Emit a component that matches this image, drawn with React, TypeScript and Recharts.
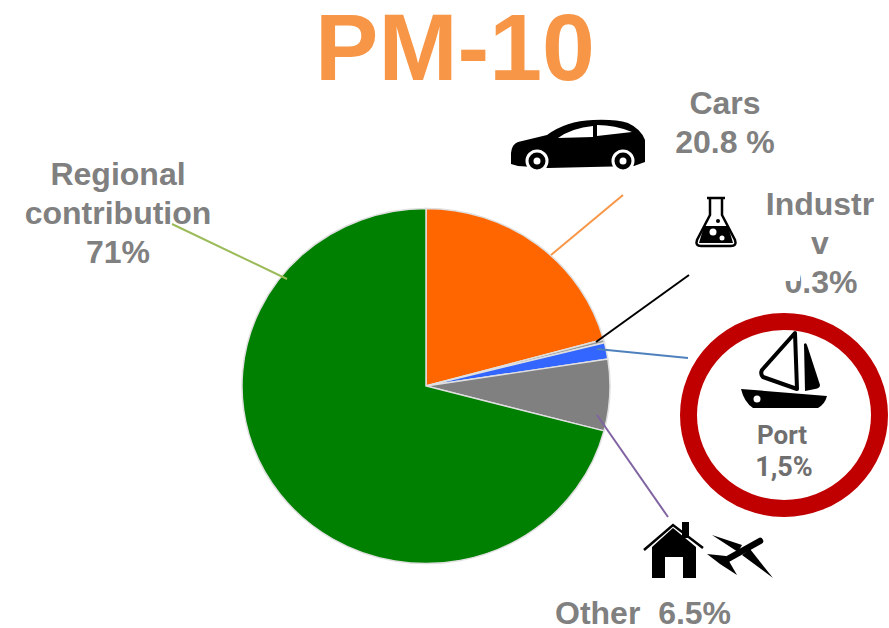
import React from "react";
import { PieChart, Pie, Cell } from "recharts";

const categories = ["Cars", "Industry", "Port", "Other", "Regional contribution"];
const shares = [20.8, 0.3, 1.5, 6.5, 71];
const colors = ["#ff6600", "#9a9a9a", "#3366ff", "#808080", "#008000"];
const data = categories.map((name, i) => ({ name, value: shares[i] }));

const FONT = "'Liberation Sans', Arial, sans-serif";
const GREY = "#808080";

const Label = ({ x, y, children, anchor = "middle" }: any) => (
  <text x={x} y={y} textAnchor={anchor} fontFamily={FONT} fontWeight={700} fontSize={32} fill={GREY} xmlSpace="preserve">
    {children}
  </text>
);

export default function App() {
  return (
    <div style={{ position: "absolute", left: 0, top: 0, width: 889, height: 628, overflow: "hidden", background: "#fff" }}>
      <div style={{ position: "absolute", left: 0, top: 0, transform: "scale(1, 0.965)", transformOrigin: "426px 386px" }}>
        <PieChart width={889} height={628} margin={{ top: 0, right: 0, bottom: 0, left: 0 }}>
          <Pie
            data={data}
            dataKey="value"
            nameKey="name"
            cx={426}
            cy={386}
            innerRadius={0}
            outerRadius={184}
            startAngle={90}
            endAngle={-270}
            stroke="#e0e0e0"
            strokeWidth={1.5}
            isAnimationActive={false}
            labelLine={false}
          >
            {data.map((d, i) => (
              <Cell key={d.name} fill={colors[i]} />
            ))}
          </Pie>
        </PieChart>
      </div>
      <svg width={889} height={628} style={{ position: "absolute", left: 0, top: 0 }}>
        <text x={455} y={80} textAnchor="middle" fontFamily={FONT} fontWeight={700} fontSize={95} fill="#f79646">PM-10</text>

        {/* leader lines */}
        <line x1={551} y1={255} x2={623} y2={195} stroke="#f79646" strokeWidth={2} />
        <line x1={596} y1={342} x2={689} y2={275} stroke="#000" strokeWidth={2} />
        <line x1={597} y1={349} x2={688} y2={358} stroke="#4f81bd" strokeWidth={2} />
        <line x1={597} y1={415} x2={668} y2={517} stroke="#8064a2" strokeWidth={2} />
        <line x1={172} y1={224} x2={287} y2={279} stroke="#9bbb59" strokeWidth={2} />

        {/* labels */}
        <Label x={118} y={185}>Regional</Label>
        <Label x={118} y={224}>contribution</Label>
        <Label x={118} y={263}>71%</Label>
        <Label x={725} y={114}>Cars</Label>
        <Label x={725} y={153}>20.8 %</Label>
        <Label x={820} y={215}>Industr</Label>
        <Label x={820} y={254}>v</Label>
        <Label x={821} y={293}>0.3%</Label>
        <rect x={778} y={266} width={22} height={15} fill="#fff" />
        <Label x={555} y={624} anchor="start">Other  6.5%</Label>

        {/* car */}
        <path d="M511 164 L511 153 Q512 144 518 142 L547 135 Q566 121 593 120 Q615 119 628 123 Q641 129 645 140 L645 162 L634 166 L548 168 L518 166 Z" fill="#000" />
        <path d="M558 138 Q572 128 593 126 L593 137 Z M597 125 Q615 125 632 132 L597 136 Z" fill="#fff" />
        {[537, 623].map((cx) => (
          <g key={cx}>
            <circle cx={cx} cy={161} r={11.5} fill="#fff" />
            <circle cx={cx} cy={161} r={8.5} fill="#000" />
            <circle cx={cx} cy={161} r={3.5} fill="#fff" />
          </g>
        ))}

        {/* flask */}
        <path d="M707 198 H725 M710 198 V215 L697 240 Q695 246 701 246 H731 Q737 246 735 240 L722 215 V198" fill="#fff" stroke="#000" strokeWidth={2.5} />
        <path d="M704 226 H728 L733 243 H699 Z" fill="#000" />
        <circle cx={713} cy={232} r={3.5} fill="#fff" />
        <circle cx={722} cy={238} r={2.5} fill="#fff" />
        <circle cx={718} cy={221} r={2} fill="#000" />

        {/* port ring */}
        <ellipse cx={784} cy={415} rx={95.5} ry={93.5} fill="#fff" stroke="#c00000" strokeWidth={17} />
        <path d="M795 333 L797 389 L763 377 Q760 374 762 370 Z" fill="#fff" stroke="#000" strokeWidth={4} strokeLinejoin="round" />
        <path d="M804 344 Q806 342 807 345 L820 385 Q820 388 815 389 L805 391 Z" fill="#000" />
        <path d="M741 389 L827 396 Q825 404 818 408 L753 408 Q744 402 741 389 Z" fill="#000" />
        <circle cx={757} cy={399} r={3.5} fill="#fff" />
        <text x={782} y={444} textAnchor="middle" fontFamily="Roboto" fontWeight={700} fontSize={26} fill="#6f6f6f">Port</text>
        <text x={784} y={476} textAnchor="middle" fontFamily="Roboto" fontWeight={700} fontSize={27} fill="#6f6f6f">1,5%</text>

        {/* house */}
        <path d="M652 578 V547 L673 528 L696 547 V578 H683 V557 H665 V578 Z" fill="#000" />
        <path d="M644 550 L673 525 L703 548" fill="none" stroke="#000" strokeWidth={2.5} />
        <rect x={682} y={522} width={7} height={16} fill="#000" />

        {/* plane */}
        <line x1={760} y1={541} x2={726} y2={560} stroke="#000" strokeWidth={6.5} strokeLinecap="round" />
        <path d="M712 535 L742 545 L738 552 Z" fill="#000" />
        <path d="M773 578 L750 549 L742 555 Z" fill="#000" />
        <path d="M707 554 L726 556 L737 575 L720 564 Z" fill="#000" />
      </svg>
    </div>
  );
}
